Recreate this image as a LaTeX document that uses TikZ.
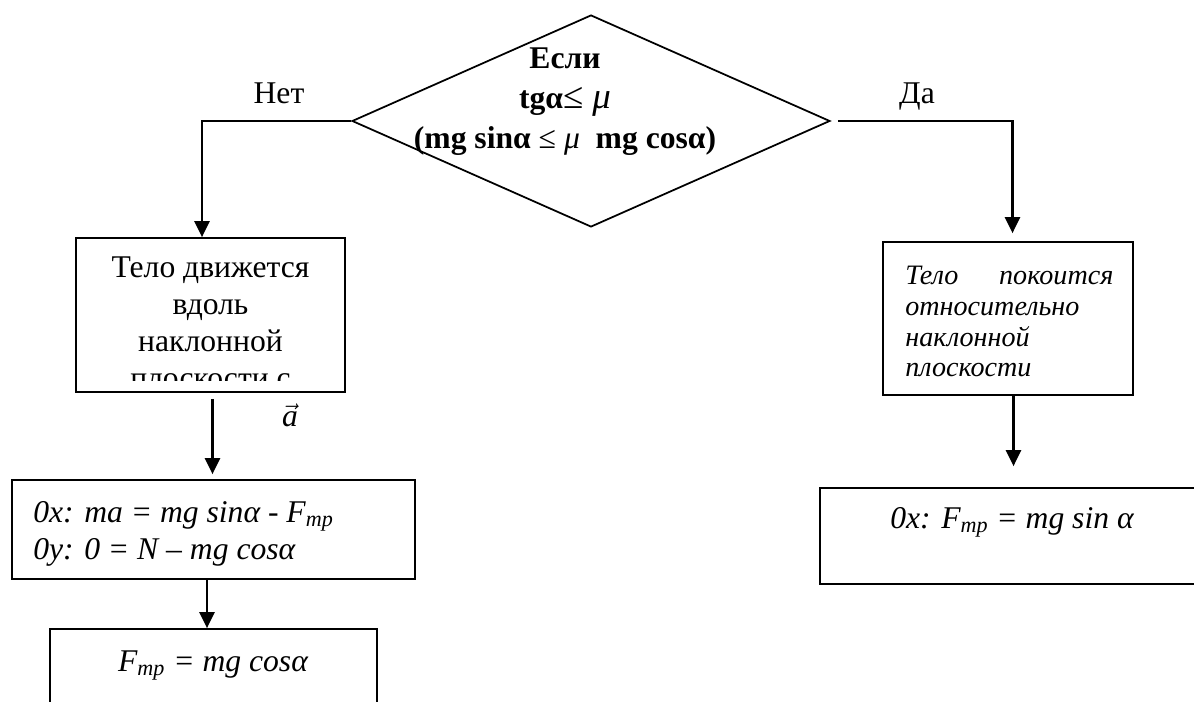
\documentclass[tikz,border=0pt]{standalone}
\usepackage{fontspec}
\setmainfont{Liberation Serif}
\usetikzlibrary{arrows.meta,shapes.geometric}

\tikzset{
  box/.style={draw, rectangle, line width=1pt, inner sep=0pt},
  cond/.style={draw, diamond, line width=1pt, inner sep=0pt},
  arr/.style={line width=1.3pt, -{Triangle[length=0.32cm,width=0.3cm]}},
  txt/.style={inner sep=0pt, font=\fontsize{18}{21.2}\selectfont},
  itxt/.style={inner sep=0pt, font=\fontsize{18}{21}\selectfont\itshape},
}

\begin{document}
\begin{tikzpicture}[x=0.02cm,y=-0.02cm]
\clip (0,0) rectangle (1194,702);
  \node[cond, minimum width=9.56cm, minimum height=4.24cm] (test) at (591,121) {};
  \node[txt, font=\fontsize{18}{22.8}\selectfont\bfseries, align=center, anchor=north] (testtxt) at (565,47) {Если\\tgα{\mdseries\fontsize{21}{22.8}\selectfont≤ \itshape μ}\\(mg sinα {\mdseries ≤ \itshape μ}~ mg cosα)};
  \node[txt, anchor=base] (no) at (279,104) {Нет};
  \node[txt, anchor=base] (yes) at (917,104) {Да};
  \node[box, minimum width=5.38cm, minimum height=3.08cm] (move) at (210.5,315) {};
  \begin{scope}
    \clip ([yshift=0.24cm]move.south west) rectangle (move.north east);
    \node[txt, align=center, anchor=north] (movetxt) at (210.5,256) {Тело движется\\вдоль\\наклонной\\плоскости с};
  \end{scope}
  \node[box, minimum width=5cm, minimum height=3.06cm] (rest) at (1008,318.5) {};
  \node[inner sep=0pt, font=\fontsize{16}{17.5}\selectfont\itshape, text width=4.16cm, align=left, anchor=north west] (resttxt) at (905,266) {Тело\hfill покоится\\относительно\\наклонной\\плоскости};
  \node[box, minimum width=8.06cm, minimum height=1.98cm] (eqs) at (213.5,529.5) {};
  \node[itxt, align=left, anchor=north west] (eqstxt) at (33,501) {0x: ma = mg sinα - F\textsubscript{mp}\\0y: 0 = N – mg cosα};
  \node[box, minimum width=6.54cm, minimum height=2.22cm] (res) at (213.5,684.5) {};
  \node[itxt, anchor=base] (restxt) at (213,671) {F\textsubscript{mp} = mg cosα};
  \node[box, minimum width=7.68cm, minimum height=1.92cm] (side) at (1012,536) {};
  \node[itxt, anchor=base] (sidetxt) at (1012,528) {0x: F\textsubscript{mp} = mg sin α};
  \node[itxt, anchor=base] (acc) at (290,427) {\ensuremath{\vec{\mbox{\textit{a}}}}};
\draw[arr] (test.west) -| ([xshift=-0.17cm]move.north);
\draw[arr, shorten <=0.14cm, shorten >=0.16cm] (test.east) -| ([xshift=0.09cm]rest.north);
\draw[arr, shorten <=0.12cm, shorten >=0.1cm] ([xshift=0.04cm]move.south) -- ([xshift=0.04cm]move.south |- eqs.north);
\draw[arr] ([xshift=-0.13cm]eqs.south) -- ([xshift=-0.13cm]eqs.south |- res.north);
\draw[arr, shorten >=0.42cm] ([xshift=0.11cm]rest.south) -- ([xshift=0.11cm]rest.south |- side.north);
\end{tikzpicture}
\end{document}
